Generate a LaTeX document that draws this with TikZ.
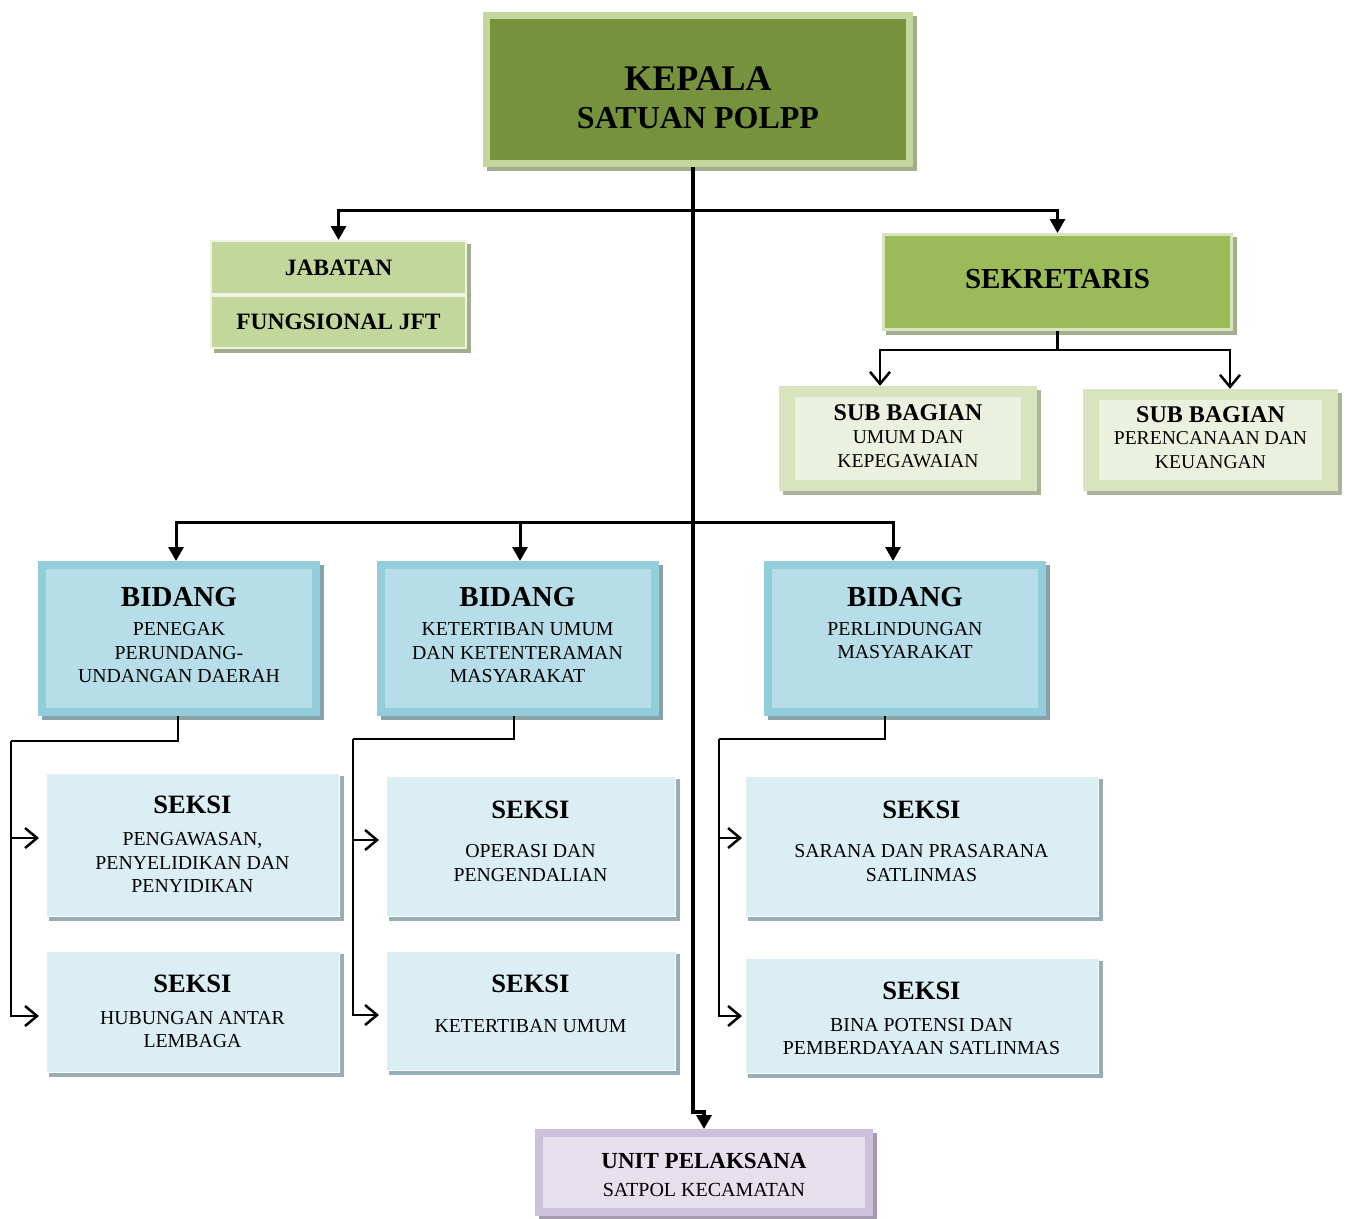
\documentclass[tikz,border=0pt]{standalone}
\usepackage{fontspec}
\setmainfont{Liberation Serif}
\usetikzlibrary{arrows.meta,backgrounds}
\definecolor{kepF}{HTML}{76923C}
\definecolor{kepB}{HTML}{C3D69B}
\definecolor{kepS}{HTML}{A3AC8C}
\definecolor{sekF}{HTML}{9BBB59}
\definecolor{sekB}{HTML}{D7E4BD}
\definecolor{jftF}{HTML}{C3D69B}
\definecolor{jftB}{HTML}{EEF3E2}
\definecolor{subO}{HTML}{D7E4BD}
\definecolor{subI}{HTML}{EBF1DE}
\definecolor{subS}{HTML}{ABB39A}
\definecolor{bidB}{HTML}{92CDDC}
\definecolor{bidF}{HTML}{B7DEE8}
\definecolor{bidS}{HTML}{89A1A9}
\definecolor{sekiF}{HTML}{DBEEF3}
\definecolor{sekiS}{HTML}{98AEB6}
\definecolor{unitB}{HTML}{CCC0DA}
\definecolor{unitF}{HTML}{E5E0EC}
\definecolor{unitS}{HTML}{A59BAE}
\begin{document}
\begin{tikzpicture}[x=1pt,y=-1pt,
  box/.style={rectangle,inner sep=0pt,align=center},
  kepbox/.style={box,fill=kepF,draw=kepB,line width=7pt,font=\fontsize{32}{38.6}\selectfont\bfseries},
  jftbox/.style={box,fill=jftF,draw=jftB,line width=2pt,minimum width=255pt,font=\fontsize{23.5}{26}\selectfont\bfseries},
  sekbox/.style={box,fill=sekF,draw=sekB,line width=3pt,font=\fontsize{29}{30}\selectfont\bfseries},
  subbox/.style={box,fill=subO,font=\fontsize{19.6}{24}\selectfont,
    path picture={\fill[subI] ([shift={(16pt,-11pt)}]path picture bounding box.north west) rectangle ([shift={(-16pt,11pt)}]path picture bounding box.south east);}},
  bidbox/.style={box,fill=bidF,draw=bidB,line width=8pt,minimum width=274pt,minimum height=147pt,font=\fontsize{19.8}{23.5}\selectfont},
  seksibox/.style={box,fill=sekiF,draw=white,line width=1.5pt,font=\fontsize{19.8}{23.5}\selectfont},
  unitbox/.style={box,fill=unitF,draw=unitB,line width=8pt,font=\fontsize{20}{28}\selectfont},
  conn/.style={line width=3pt,draw=black},
  connthin/.style={line width=2.5pt,draw=black},
  trunk/.style={line width=4pt,draw=black},
  filled/.style={-{Triangle[length=14pt,width=15pt]}},
  openarr/.style={-{Straight Barb[length=12pt,width=20pt,line width=2.5pt]}},
]
\useasboundingbox (0,0) rectangle (1348,1218);

% ---------- boxes ----------
\node[kepbox,minimum width=423pt,minimum height=148pt] (kepala) at (698,89.5)
  {\rule{0pt}{40pt}{\fontsize{36}{38.6}\selectfont KEPALA}\\SATUAN POLPP};

\node[jftbox,minimum height=53pt] (jfta) at (338.5,267.5) {JABATAN};
\node[jftbox,minimum height=52pt] (jftb) at (338.5,322) {FUNGSIONAL JFT};

\node[sekbox,minimum width=348pt,minimum height=95pt] (sek) at (1057.5,282)
  {SEKRETARIS\rule[-6pt]{0pt}{6pt}};

\node[subbox,minimum width=258pt,minimum height=105pt] (sub1) at (908,438.5)
  {{\fontsize{24}{24}\selectfont\bfseries SUB BAGIAN}\\[-1.6pt]UMUM DAN\\KEPEGAWAIAN\rule[-5pt]{0pt}{5pt}};
\node[subbox,minimum width=255pt,minimum height=102pt] (sub2) at (1210.5,440)
  {{\fontsize{24}{24}\selectfont\bfseries SUB BAGIAN}\\[-1.6pt]PERENCANAAN DAN\\KEUANGAN\rule[-5pt]{0pt}{5pt}};

\node[bidbox] (bid1) at (179,638.5)
  {{\fontsize{29}{23.5}\selectfont\bfseries BIDANG}\\[5.3pt]PENEGAK\\PERUNDANG-\\UNDANGAN DAERAH\rule[-7pt]{0pt}{7pt}};
\node[bidbox] (bid2) at (517.5,638.5)
  {{\fontsize{29}{23.5}\selectfont\bfseries BIDANG}\\[5.3pt]KETERTIBAN UMUM\\DAN KETENTERAMAN\\MASYARAKAT\rule[-7pt]{0pt}{7pt}};
\node[bidbox] (bid3) at (905,638.5)
  {{\fontsize{29}{23.5}\selectfont\bfseries BIDANG}\\[5.3pt]PERLINDUNGAN\\MASYARAKAT\rule[-31pt]{0pt}{31pt}};

\node[seksibox,minimum width=293.5pt,minimum height=143.5pt] (s11) at (192.5,844.5)
  {{\fontsize{26.5}{23.5}\selectfont\bfseries SEKSI}\\[8.3pt]PENGAWASAN,\\PENYELIDIKAN DAN\\PENYIDIKAN};
\node[seksibox,minimum width=293.5pt,minimum height=121.5pt] (s12) at (192.5,1011.5)
  {{\fontsize{26.5}{23.5}\selectfont\bfseries SEKSI}\\[8.3pt]HUBUNGAN ANTAR\\LEMBAGA};
\node[seksibox,minimum width=289.5pt,minimum height=140.5pt] (s21) at (530.5,846)
  {{\fontsize{26.5}{23.5}\selectfont\bfseries SEKSI}\\[16.3pt]OPERASI DAN\\PENGENDALIAN\rule[-10pt]{0pt}{10pt}};
\node[seksibox,minimum width=289.5pt,minimum height=119.5pt] (s22) at (530.5,1010.5)
  {{\fontsize{26.5}{23.5}\selectfont\bfseries SEKSI}\\[16.3pt]KETERTIBAN UMUM\rule[-13pt]{0pt}{13pt}};
\node[seksibox,minimum width=353.5pt,minimum height=140.5pt] (s31) at (921.5,846)
  {{\fontsize{26.5}{23.5}\selectfont\bfseries SEKSI}\\[16.3pt]SARANA DAN PRASARANA\\SATLINMAS\rule[-10pt]{0pt}{10pt}};
\node[seksibox,minimum width=353.5pt,minimum height=115.5pt] (s32) at (921.5,1015.5)
  {\rule{0pt}{23.5pt}{\fontsize{26.5}{23.5}\selectfont\bfseries SEKSI}\\[8.3pt]BINA POTENSI DAN\\PEMBERDAYAAN SATLINMAS};

\node[unitbox,minimum width=330pt,minimum height=79pt] (unit) at (704,1172.5)
  {\rule{0pt}{21pt}{\fontsize{23}{28}\selectfont\bfseries UNIT PELAKSANA}\\SATPOL KECAMATAN};

% ---------- shadows ----------
\begin{pgfonlayer}{background}
\foreach \n/\c in {kepala/kepS,jfta/kepS,jftb/kepS,sek/kepS,sub1/subS,sub2/subS,
  bid1/bidS,bid2/bidS,bid3/bidS,s11/sekiS,s12/sekiS,s21/sekiS,s22/sekiS,s31/sekiS,s32/sekiS,unit/unitS}
  \fill[\c] ([shift={(4,4)}]\n.north west) rectangle ([shift={(4,4)}]\n.south east);
\end{pgfonlayer}

% ---------- junctions ----------
\coordinate (jtop) at (693,210);
\coordinate (jmid) at (693,522);
\coordinate (jsek) at (sek.south |- 0,350);
\coordinate (r1) at (11,741);
\coordinate (r2) at (353,739);
\coordinate (r3) at (719,739);

% ---------- connectors ----------
\draw[trunk,filled] (kepala.south -| 693,0) -- (693,1112) -| (unit.north);

\draw[conn,filled] (jtop) -| (jfta.north);
\draw[conn,filled] (jtop) -| (sek.north);

\draw[connthin] (sek.south) -- (jsek);
\draw[connthin,openarr] (jsek) -| ([xshift=-28pt]sub1.north);
\draw[connthin,openarr] (jsek) -| ([xshift=19.5pt]sub2.north);

\draw[conn,filled] (jmid) -| ([xshift=-3pt]bid1.north);
\draw[conn,filled] (jmid) -| ([xshift=2.5pt]bid2.north);
\draw[conn,filled] (jmid) -| ([xshift=-12pt]bid3.north);

\draw[connthin] ([xshift=-1pt]bid1.south) |- (r1);
\draw[connthin,openarr,shorten >=6pt] (r1) |- (s12.west |- 0,1016);
\draw[connthin,openarr,shorten >=6pt] (r1 |- 0,838) -- (s11.west |- 0,838);

\draw[connthin] ([xshift=-3.5pt]bid2.south) |- (r2);
\draw[connthin,openarr,shorten >=6pt] (r2) |- (s22.west |- 0,1015);
\draw[connthin,openarr,shorten >=6pt] (r2 |- 0,840) -- (s21.west |- 0,840);

\draw[connthin] ([xshift=-20pt]bid3.south) |- (r3);
\draw[connthin,openarr,shorten >=2pt] (r3) |- (s32.west |- 0,1016);
\draw[connthin,openarr,shorten >=2pt] (r3 |- 0,838) -- (s31.west |- 0,838);
\end{tikzpicture}
\end{document}
